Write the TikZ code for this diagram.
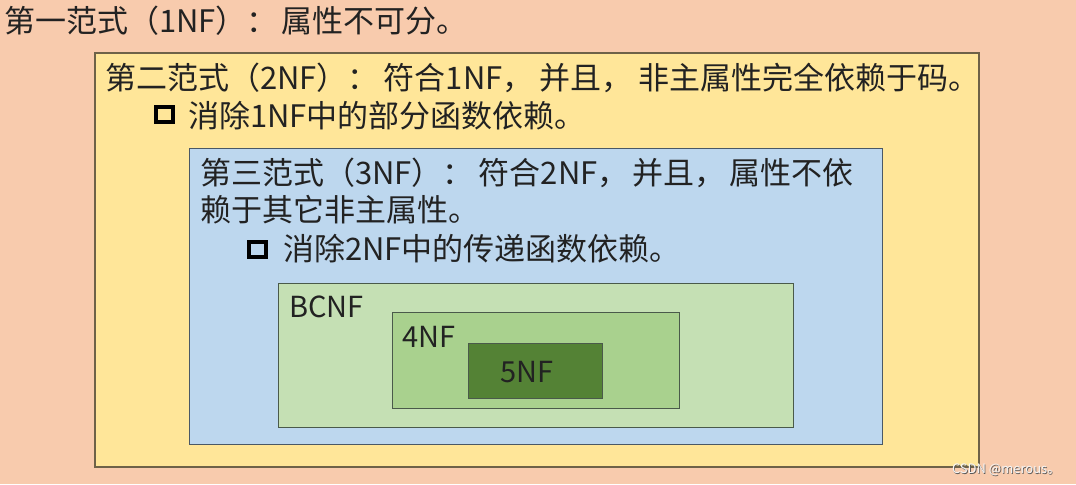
\documentclass[tikz,border=0pt]{standalone}
\usepackage{fontspec}
\setmainfont{Noto Sans CJK SC}
\definecolor{bgpeach}{HTML}{F8CBAD}
\definecolor{ybox}{HTML}{FFE699}
\definecolor{bbox}{HTML}{BDD7EE}
\definecolor{gbox}{HTML}{C5E0B4}
\definecolor{g4box}{HTML}{A9D18E}
\definecolor{g5box}{HTML}{548235}
\definecolor{txt}{HTML}{222222}
\definecolor{ybord}{HTML}{6E6248}
\definecolor{bbord}{HTML}{4A5866}
\definecolor{gbord}{HTML}{4A5A4A}
\begin{document}
\begin{tikzpicture}[x=1pt,y=-1pt,
  box/.style={draw, anchor=north west, inner sep=0pt, line width=1.5pt},
  lbl/.style={anchor=base west, inner sep=0pt, text=txt, font=\fontsize{31}{36}\selectfont},
  chk/.style={draw=black, line width=4pt, inner sep=0pt, minimum width=17pt, minimum height=15pt, anchor=center}]
\node[fill=bgpeach, anchor=north west, inner sep=0pt, minimum width=1076pt, minimum height=484pt] (bg) at (0,0) {};
\useasboundingbox (0,0) rectangle (1076,484);
\node[box, draw=ybord, line width=2pt, fill=ybox, minimum width=884pt, minimum height=414pt] (nf2) at (94,52) {};
\node[box, draw=bbord, fill=bbox, minimum width=693pt, minimum height=296pt] (nf3) at (189,148) {};
\node[box, draw=gbord, fill=gbox, minimum width=515pt, minimum height=144pt] (bcnf) at (278,283) {};
\node[box, draw=gbord, fill=g4box, minimum width=287pt, minimum height=96pt] (nf4) at (392,312) {};
\node[box, draw=gbord, fill=g5box, minimum width=134pt, minimum height=55pt] (nf5) at (468,343) {};

\node[lbl] (t1) at (4,33) {第一范式（1NF）：\hspace{4pt}属性不可分。};
\node[lbl] (t2) at (105,90) {第二范式（2NF）：\hspace{5pt}符合1NF，\hspace{6pt}并且，\hspace{6pt}非主属性完全依赖于码。};
\node[chk] (c1) at (165,115) {};
\node[lbl] (t2b) at (188,128) {消除1NF中的部分函数依赖。};
\node[lbl] (t3) at (200,185) {第三范式（3NF）：\hspace{5pt}符合2NF，\hspace{4pt}并且，\hspace{4pt}属性不依};
\node[lbl] (t3a) at (200,222) {赖于其它非主属性。};
\node[chk] (c2) at (258,250) {};
\node[lbl] (t3b) at (283,261) {消除2NF中的传递函数依赖。};
\node[lbl, font=\fontsize{29}{34}\selectfont] (tb) at (289,318) {BCNF};
\node[lbl, font=\fontsize{29}{34}\selectfont] (t4) at (402,348) {4NF};
\node[lbl, font=\fontsize{29}{34}\selectfont] (t5) at (500,383) {5NF};
\node[anchor=base west, inner sep=0pt, text=gray!70!black, font=\fontsize{13}{15}\selectfont] (wms) at (952.8,474.8) {CSDN @merous。};
\node[anchor=base west, inner sep=0pt, text=white!92!gray, font=\fontsize{13}{15}\selectfont] (wm) at (952,474) {CSDN @merous。};
\end{tikzpicture}
\end{document}
